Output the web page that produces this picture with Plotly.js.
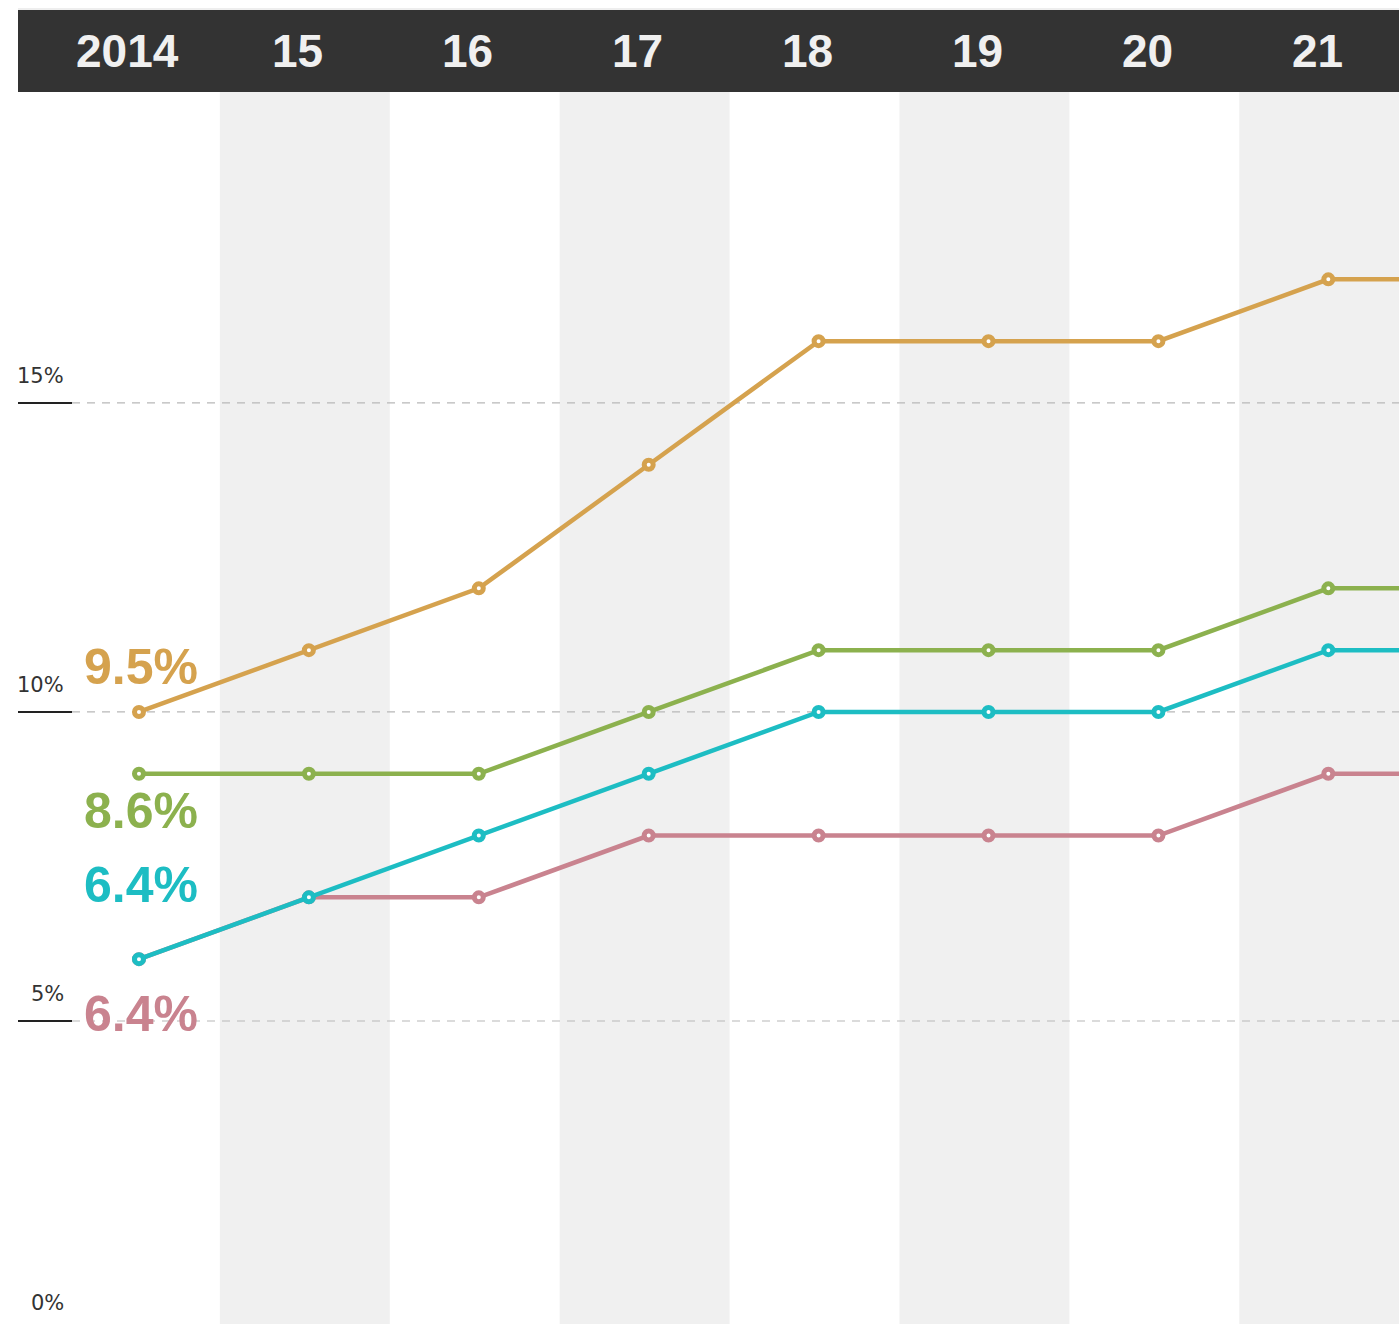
<!DOCTYPE html>
<html>
<head>
<meta charset="utf-8">
<script src="https://cdn.plot.ly/plotly-3.0.1.min.js"></script>
<style>
html,body{margin:0;padding:0;overflow:hidden;background:#fff;}
#chart{width:1399px;height:1340px;}
</style>
</head>
<body>
<div id="chart"></div>
<script>
// ---- data ----
const years = [2014, 2015, 2016, 2017, 2018, 2019, 2020, 2021, 2022];
const yearLabels = ['2014', '15', '16', '17', '18', '19', '20', '21'];
const orangeValues = [10, 11, 12, 14, 16, 16, 16, 17, 17];
const greenValues  = [9, 9, 9, 10, 11, 11, 11, 12, 12];
const cyanValues   = [6, 7, 8, 9, 10, 10, 10, 11, 11];
const pinkValues   = [6, 7, 7, 8, 8, 8, 8, 9, 9];
const seriesLabels = ['9.5%', '8.6%', '6.4%', '6.4%'];   // orange, green, cyan, pink
const yTickValues = [0, 5, 10, 15];
const yTickLabels = ['0%', '5%', '10%', '15%'];
const bandYears = [2015, 2017, 2019, 2021];

// ---- styles ----
const C = {orange:'#d5a24e', green:'#8cb14e', cyan:'#1dbdc3', pink:'#c9838f'};
const H = 1340;
const bandShift = -0.024;

function series(vals, color){
  return {
    x: years, y: vals, type:'scatter', mode:'lines+markers',
    line:{color:color, width:4.5},
    marker:{symbol:'circle', size:9, color:'#ffffff', line:{color:color, width:5}},
    cliponaxis:true, hoverinfo:'skip'
  };
}
const data = [
  series(pinkValues, C.pink),
  series(cyanValues, C.cyan),
  series(greenValues, C.green),
  series(orangeValues, C.orange)
];

const shapes = [];
// alternating bands
bandYears.forEach(yr => shapes.push({
  type:'rect', xref:'x', yref:'paper', x0:yr-0.5+bandShift, x1:yr+0.5+bandShift, y0:0, y1:1-92/H,
  fillcolor:'#f0f0f0', line:{width:0}, layer:'below'
}));
// header bar
shapes.push({type:'rect', xref:'paper', yref:'paper', x0:18/1399, x1:1, y0:1-92/H, y1:1-10/H,
  fillcolor:'#333333', line:{width:0}, layer:'above'});
shapes.push({type:'line', xref:'paper', yref:'paper', x0:18/1399, x1:1, y0:1-9/H, y1:1-9/H,
  line:{color:'#dddddd', width:1}, layer:'above'});
// gridlines + tick stubs
yTickValues.forEach(v => {
  if (v > 0) shapes.push({type:'line', xref:'paper', yref:'y', x0:72/1399, x1:1, y0:v, y1:v,
    line:{color:'#b8b8b8', width:1.2, dash:'8px,7px'}, layer:'below'});
  shapes.push({type:'line', xref:'paper', yref:'y', x0:18/1399, x1:72/1399, y0:v, y1:v,
    line:{color:'#222222', width:2}, layer:'below'});
});

const annotations = [];
yearLabels.forEach((t, i) => annotations.push({
  xref:'x', yref:'paper', x:years[i], y:1-51/H, text:t, showarrow:false,
  xanchor:'center', yanchor:'middle', xshift:-11,
  font:{family:'Liberation Sans, Arial, sans-serif', size:46, color:'#f0f0f0', weight:'bold'}
}));
yTickValues.forEach((v, i) => annotations.push({
  xref:'paper', yref:'y', x:66/1399, y:v, text:yTickLabels[i], showarrow:false,
  xanchor:'right', yanchor:'middle', yshift:27,
  font:{family:'DejaVu Sans, sans-serif', size:21, color:'#333333'}
}));
const labelSeries = [
  {vals:orangeValues, color:C.orange, shift:45},
  {vals:greenValues, color:C.green, shift:-37},
  {vals:cyanValues, color:C.cyan, shift:74},
  {vals:pinkValues, color:C.pink, shift:-55}
];
labelSeries.forEach((s, i) => annotations.push({
  xref:'x', yref:'y', x:years[0], y:s.vals[0], text:seriesLabels[i], showarrow:false,
  xanchor:'center', yanchor:'middle', xshift:2, yshift:s.shift,
  font:{family:'Liberation Sans, Arial, sans-serif', size:50, color:s.color, weight:'bold'}
}));

const layout = {
  width:1399, height:H,
  margin:{l:0, r:0, t:0, b:0, pad:0},
  paper_bgcolor:'#ffffff', plot_bgcolor:'rgba(0,0,0,0)',
  showlegend:false,
  xaxis:{range:[2013.182, 2021.416], visible:false, fixedrange:true},
  yaxis:{range:[-0.162, 21.52], visible:false, fixedrange:true},
  shapes:shapes, annotations:annotations
};
Plotly.newPlot('chart', data, layout, {staticPlot:true, displayModeBar:false});
</script>
</body>
</html>
